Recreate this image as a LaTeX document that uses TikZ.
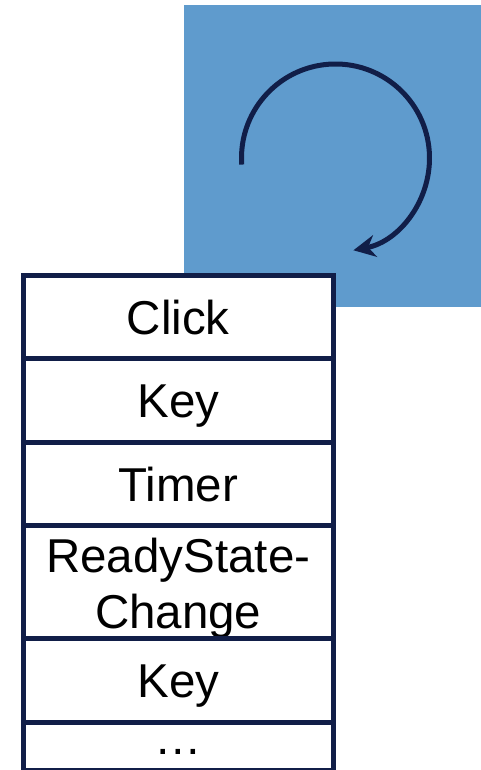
\documentclass[tikz,border=0pt]{standalone}
\usepackage{fontspec}
\setmainfont{Liberation Sans}
\usetikzlibrary{arrows.meta,positioning}
\definecolor{loopblue}{RGB}{95,155,205}
\definecolor{navy}{RGB}{17,30,72}
\tikzset{
  evtrow/.style={draw=navy, line width=5pt, fill=white, minimum width=309.5pt,
    outer sep=0pt, inner sep=0pt, align=center, font=\fontsize{47.5}{56}\selectfont},
  oneline/.style={text height=34pt, text depth=0pt},
  looparrow/.style={draw=navy, line width=5pt, -{Stealth[length=22pt,width=22pt]}},
}
\begin{document}
\begin{tikzpicture}[x=1pt,y=1pt]
  \useasboundingbox (0,0) rectangle (481,770);
  % event loop panel
  \fill[loopblue] (184,463) rectangle (481,765);
  \coordinate (hub) at (335.5,612);
  \draw[looparrow] (hub) ++(184:94) arc[start angle=184, end angle=-79, radius=94];
  % queue of events
  \node[evtrow, oneline, minimum height=83pt] (click) at (178.25,452.5) {Click};
  \node[evtrow, oneline, minimum height=84pt, below=0pt of click] (key) {Key};
  \node[evtrow, oneline, minimum height=83pt, below=0pt of key] (timer) {Timer};
  \node[evtrow, minimum height=113pt, below=0pt of timer] (ready) {\rule{0pt}{45pt}ReadyState-\\Change};
  \node[evtrow, oneline, minimum height=84pt, below=0pt of ready] (key2) {Key};
  \node[evtrow, text height=0pt, text depth=0pt, minimum height=48pt, below=0pt of key2] (more) {\raisebox{-7.5pt}{…}};
\end{tikzpicture}
\end{document}
